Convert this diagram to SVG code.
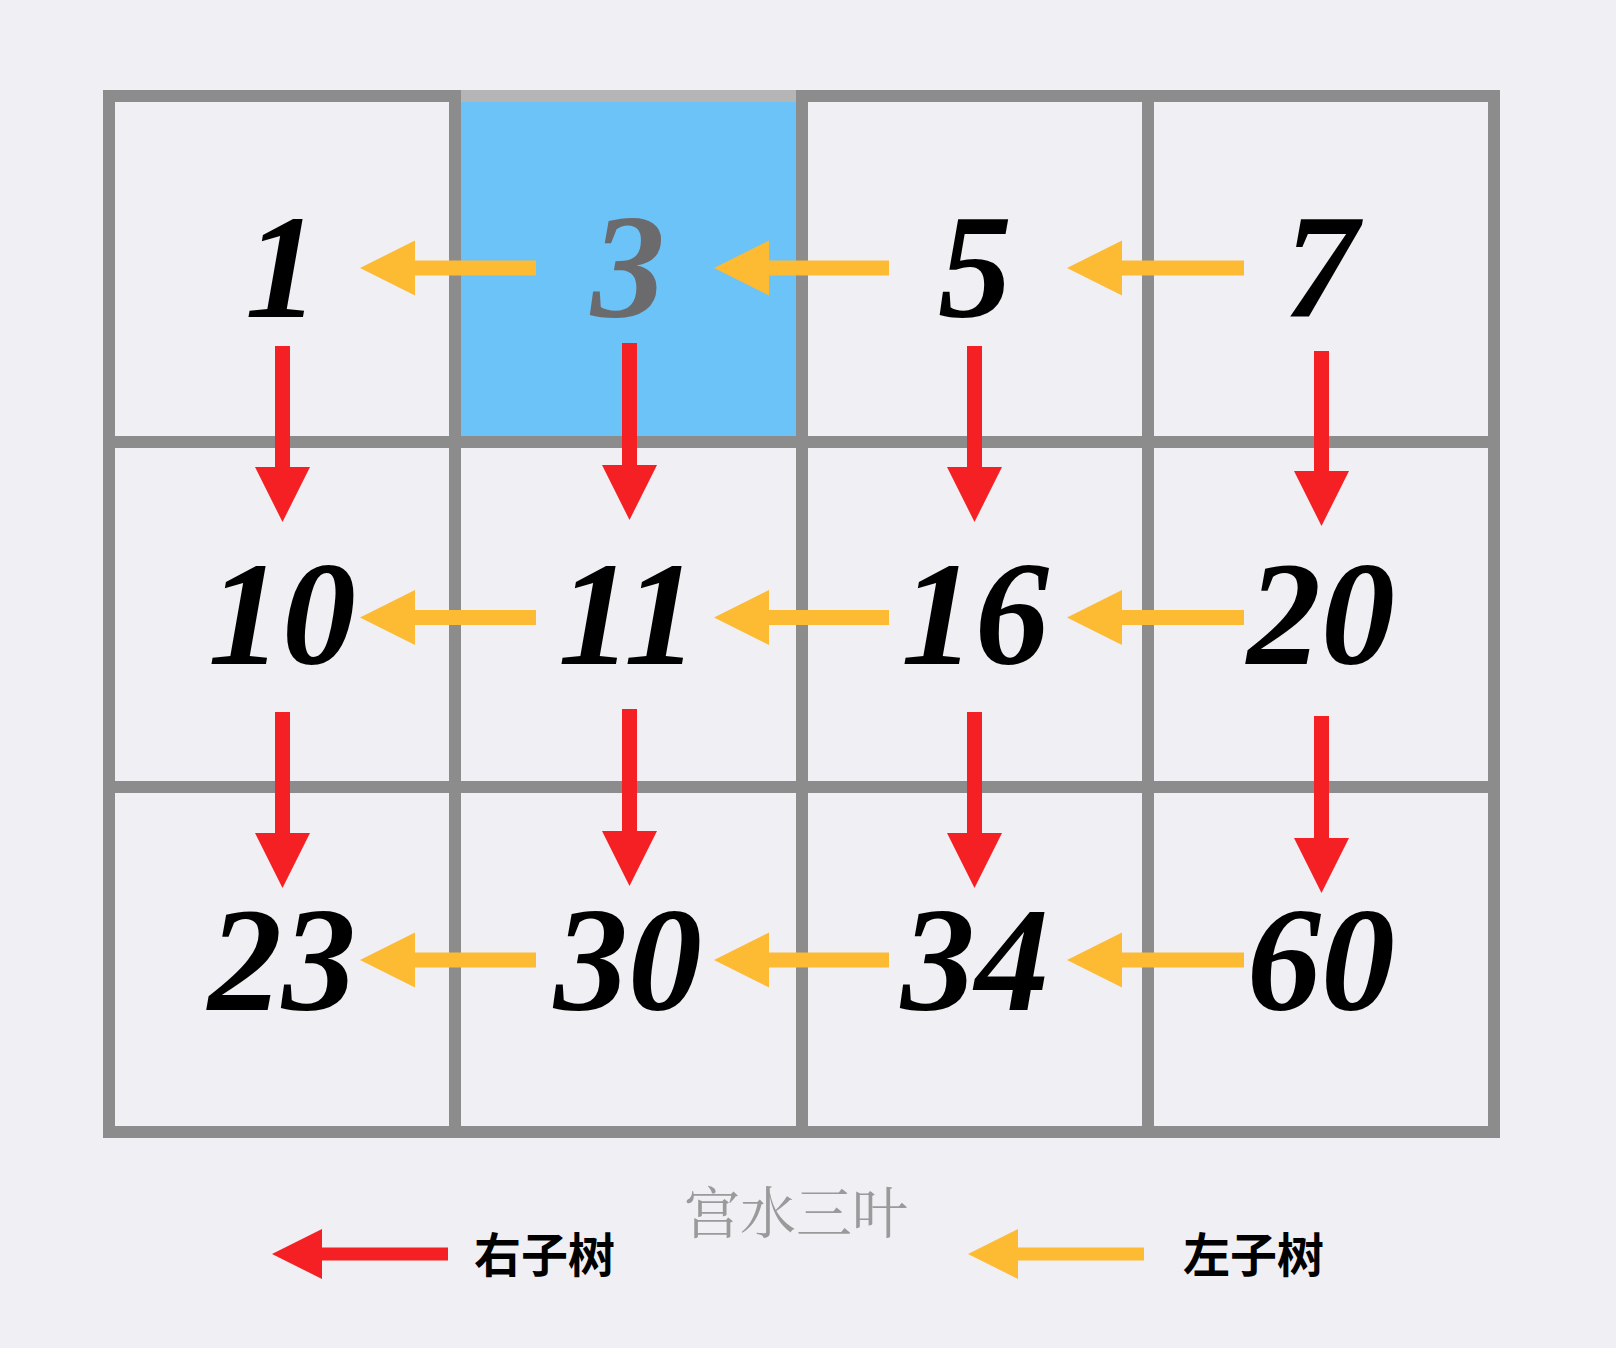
<svg xmlns="http://www.w3.org/2000/svg" width="1616" height="1348" viewBox="0 0 1616 1348">
<style>
.grid{fill:#8c8c8c}
.num{font-family:"Liberation Serif","Times New Roman",serif;font-weight:bold;font-style:italic;font-size:148px;text-anchor:middle;fill:#000}
.left{stroke:#fdba33;stroke-width:15;fill:none}
.right{stroke:#f42024;stroke-width:15;fill:none}
.legtxt{font-family:"Noto Sans CJK SC","Noto Sans",sans-serif;font-weight:bold;font-size:47px;fill:#000}
.wm{font-family:"Noto Serif CJK SC","Noto Sans CJK SC",serif;font-size:56px;fill:#9a9a9a}
</style>
<defs>
<marker id="hOrange" markerUnits="userSpaceOnUse" viewBox="0 -28 56 56" markerWidth="56" markerHeight="56" refX="0" refY="0" orient="auto" overflow="visible">
<path d="M0,-27.5 L55,0 L0,27.5 Z" fill="#fdba33"/>
</marker>
<marker id="hRed" markerUnits="userSpaceOnUse" viewBox="0 -28 56 56" markerWidth="56" markerHeight="56" refX="0" refY="0" orient="auto" overflow="visible">
<path d="M0,-27.5 L55,0 L0,27.5 Z" fill="#f42024"/>
</marker>
<marker id="hOrangeS" markerUnits="userSpaceOnUse" viewBox="0 -26 52 52" markerWidth="52" markerHeight="52" refX="0" refY="0" orient="auto" overflow="visible">
<path d="M0,-25 L50,0 L0,25 Z" fill="#fdba33"/>
</marker>
<marker id="hRedS" markerUnits="userSpaceOnUse" viewBox="0 -26 52 52" markerWidth="52" markerHeight="52" refX="0" refY="0" orient="auto" overflow="visible">
<path d="M0,-25 L50,0 L0,25 Z" fill="#f42024"/>
</marker>
</defs>
<rect width="1616" height="1348" fill="#f0eff4"/>
<g id="highlight">
<rect x="461" y="102" width="335" height="334" fill="#6cc3f7"/>
</g>
<g id="grid">
<rect class="grid" x="103" y="90" width="12" height="1048"/>
<rect class="grid" x="449" y="90" width="12" height="1048"/>
<rect class="grid" x="796" y="90" width="12" height="1048"/>
<rect class="grid" x="1142" y="90" width="12" height="1048"/>
<rect class="grid" x="1488" y="90" width="12" height="1048"/>
<rect class="grid" x="103" y="90" width="1397" height="12"/>
<rect class="grid" x="103" y="436" width="1397" height="12"/>
<rect class="grid" x="103" y="781" width="1397" height="12"/>
<rect class="grid" x="103" y="1126" width="1397" height="12"/>
<rect x="461" y="90" width="335" height="12" fill="#b5b5b5"/>
</g>
<g id="connectors">
<line class="left" x1="536" y1="268" x2="415" y2="268" marker-end="url(#hOrange)"/>
<line class="left" x1="889" y1="268" x2="769" y2="268" marker-end="url(#hOrange)"/>
<line class="left" x1="1244" y1="268" x2="1122" y2="268" marker-end="url(#hOrange)"/>
<line class="left" x1="536" y1="617.5" x2="415" y2="617.5" marker-end="url(#hOrange)"/>
<line class="left" x1="889" y1="617.5" x2="769" y2="617.5" marker-end="url(#hOrange)"/>
<line class="left" x1="1244" y1="617.5" x2="1122" y2="617.5" marker-end="url(#hOrange)"/>
<line class="left" x1="536" y1="960" x2="415" y2="960" marker-end="url(#hOrange)"/>
<line class="left" x1="889" y1="960" x2="769" y2="960" marker-end="url(#hOrange)"/>
<line class="left" x1="1244" y1="960" x2="1122" y2="960" marker-end="url(#hOrange)"/>
<line class="right" x1="282.5" y1="346" x2="282.5" y2="467" marker-end="url(#hRed)"/>
<line class="right" x1="282.5" y1="712" x2="282.5" y2="833" marker-end="url(#hRed)"/>
<line class="right" x1="629.5" y1="343" x2="629.5" y2="465" marker-end="url(#hRed)"/>
<line class="right" x1="629.5" y1="709" x2="629.5" y2="831" marker-end="url(#hRed)"/>
<line class="right" x1="974.5" y1="346" x2="974.5" y2="467" marker-end="url(#hRed)"/>
<line class="right" x1="974.5" y1="712" x2="974.5" y2="833" marker-end="url(#hRed)"/>
<line class="right" x1="1321.5" y1="351" x2="1321.5" y2="471" marker-end="url(#hRed)"/>
<line class="right" x1="1321.5" y1="716" x2="1321.5" y2="838" marker-end="url(#hRed)"/>
</g>
<g id="n1"><text class="num" x="282" y="317">1</text></g>
<g id="n3"><text class="num" x="628" y="317" style="fill:#6b6b6e">3</text></g>
<g id="n5"><text class="num" x="975" y="317">5</text></g>
<g id="n7"><text class="num" x="1321" y="317">7</text></g>
<g id="n10"><text class="num" x="282" y="664">10</text></g>
<g id="n11"><text class="num" x="628" y="664">11</text></g>
<g id="n16"><text class="num" x="975" y="664">16</text></g>
<g id="n20"><text class="num" x="1321" y="664">20</text></g>
<g id="n23"><text class="num" x="282" y="1010">23</text></g>
<g id="n30"><text class="num" x="628" y="1010">30</text></g>
<g id="n34"><text class="num" x="975" y="1010">34</text></g>
<g id="n60"><text class="num" x="1321" y="1010">60</text></g>
<g id="legend">
<line x1="448" y1="1254" x2="322" y2="1254" stroke="#f42024" stroke-width="13" marker-end="url(#hRedS)"/>
<text class="legtxt" x="474" y="1272">右子树</text>
<line x1="1144" y1="1254" x2="1018" y2="1254" stroke="#fdba33" stroke-width="13" marker-end="url(#hOrangeS)"/>
<text class="legtxt" x="1183" y="1272">左子树</text>
</g>
<g id="watermark">
<text class="wm" x="684" y="1233">宫水三叶</text>
</g>
</svg>
